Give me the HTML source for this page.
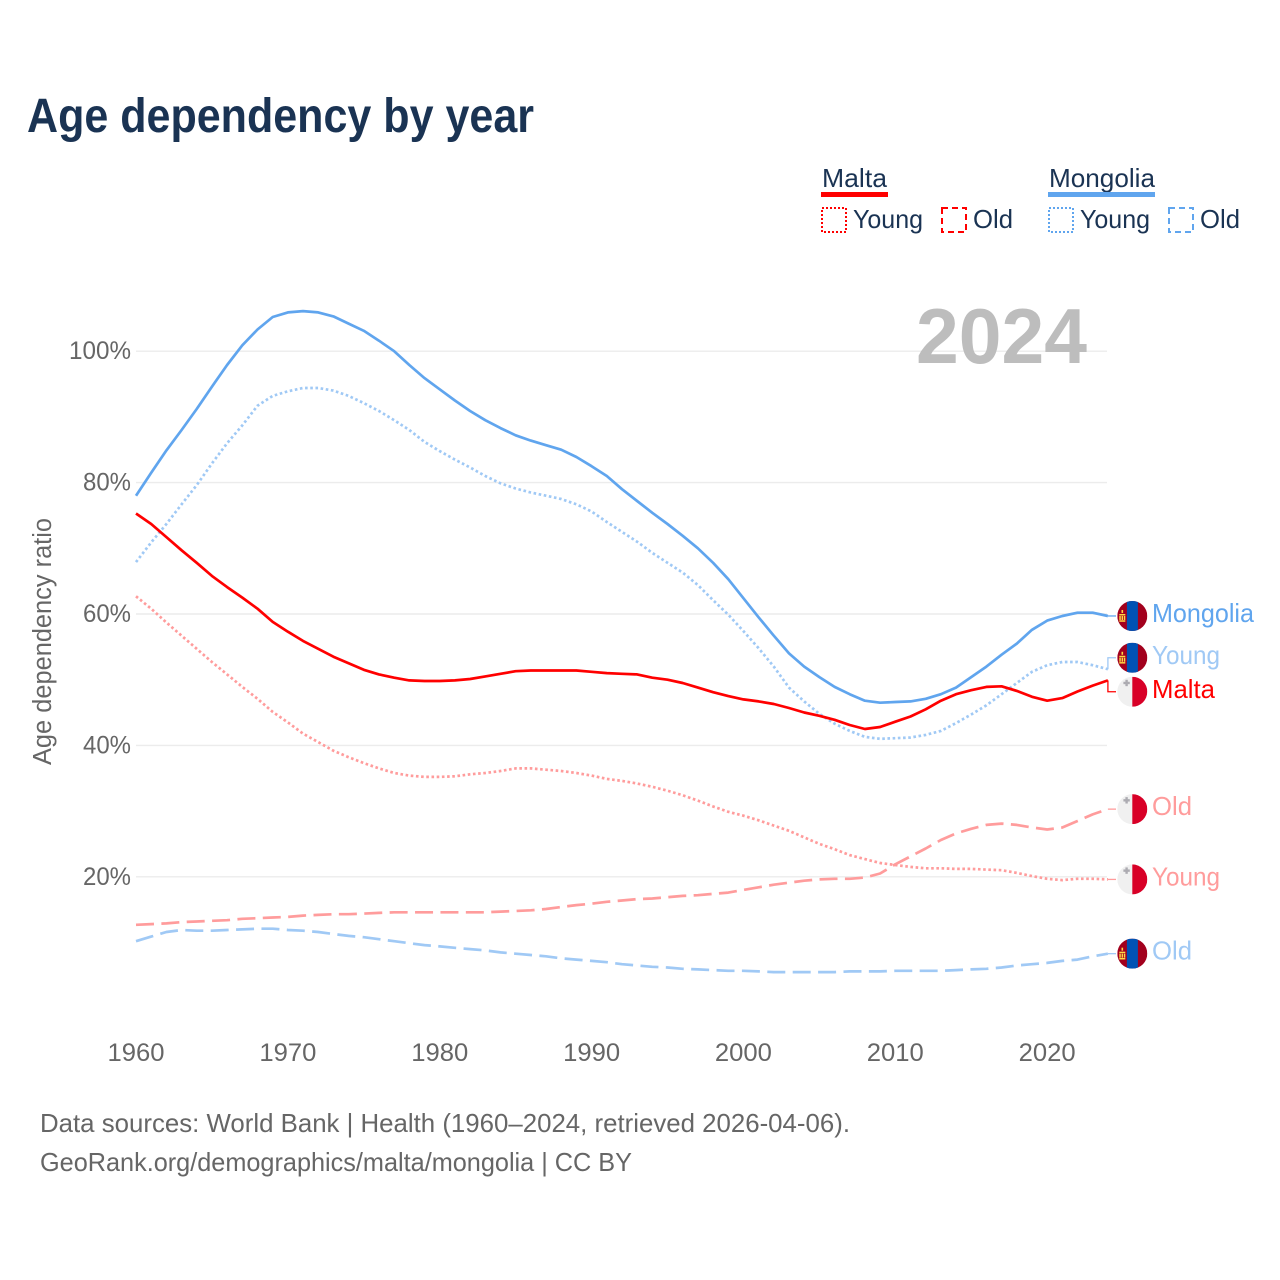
<!DOCTYPE html>
<html lang="en">
<head>
<meta charset="utf-8">
<title>Age dependency by year</title>
<style>
html,body{margin:0;padding:0;background:#fff;}
svg{display:block;font-family:"Liberation Sans",sans-serif;}
</style>
</head>
<body>
<svg id="chart" xmlns="http://www.w3.org/2000/svg" width="1280" height="1280" viewBox="0 0 1280 1280">
  <defs>
    <clipPath id="flag-clip"><circle cx="0" cy="0" r="15"/></clipPath>
    <symbol id="flag-mongolia" overflow="visible">
      <g clip-path="url(#flag-clip)">
        <rect x="-15" y="-15" width="30" height="30" fill="#a2001d"/>
        <rect x="-5.4" y="-15" width="11" height="30" fill="#0052b4"/>
        <rect x="-10.8" y="-6" width="1.6" height="3" fill="#ffda44"/>
        <rect x="-13" y="-2" width="6" height="1.5" fill="#ffda44"/>
        <rect x="-13" y="0" width="1.5" height="4" fill="#ffda44"/>
        <rect x="-8.5" y="0" width="1.5" height="4" fill="#ffda44"/>
        <rect x="-10.7" y="0" width="1.4" height="4" fill="#ffda44"/>
        <rect x="-13" y="4.3" width="6" height="1.5" fill="#ffda44"/>
      </g>
    </symbol>
    <symbol id="flag-malta" overflow="visible">
      <g clip-path="url(#flag-clip)">
        <rect x="-15" y="-15" width="15" height="30" fill="#f0f0f0"/>
        <rect x="0" y="-15" width="15" height="30" fill="#d80027"/>
        <rect x="-6.9" y="-12" width="2.4" height="6.4" fill="#acabb1"/>
        <rect x="-8.9" y="-10" width="6.4" height="2.4" fill="#acabb1"/>
      </g>
    </symbol>
  </defs>

  <text x="27" y="132" font-size="48" font-weight="700" fill="#1a3353" textLength="507" lengthAdjust="spacingAndGlyphs">Age dependency by year</text>

  <g font-size="26" fill="#1a3353">
    <text x="822" y="187" textLength="65" lengthAdjust="spacingAndGlyphs">Malta</text>
    <rect x="821" y="192" width="67" height="5" fill="#ff0000"/>
    <rect x="822" y="208" width="24" height="24" fill="none" stroke="#ff0000" stroke-width="2" stroke-dasharray="2 2"/>
    <text x="853" y="228" textLength="70" lengthAdjust="spacingAndGlyphs">Young</text>
    <rect x="942" y="208" width="24" height="24" fill="none" stroke="#ff0000" stroke-width="2" stroke-dasharray="6 4"/>
    <text x="973" y="228" textLength="40" lengthAdjust="spacingAndGlyphs">Old</text>
    <text x="1049" y="187" textLength="106" lengthAdjust="spacingAndGlyphs">Mongolia</text>
    <rect x="1048" y="192" width="107" height="5" fill="#60a5ee"/>
    <rect x="1049" y="208" width="24" height="24" fill="none" stroke="#60a5ee" stroke-width="2" stroke-dasharray="2 2"/>
    <text x="1080" y="228" textLength="70" lengthAdjust="spacingAndGlyphs">Young</text>
    <rect x="1169" y="208" width="24" height="24" fill="none" stroke="#60a5ee" stroke-width="2" stroke-dasharray="6 4"/>
    <text x="1200" y="228" textLength="40" lengthAdjust="spacingAndGlyphs">Old</text>
  </g>

  <g id="grid"></g>
  <g id="yticks" font-size="25" fill="#666666"></g>
  <g id="xticks" font-size="25" fill="#666666"></g>

  <text x="1087" y="363" text-anchor="end" font-size="78" font-weight="700" fill="#bdbdbd" textLength="171" lengthAdjust="spacingAndGlyphs">2024</text>

  <text transform="translate(51,765) rotate(-90)" font-size="25.5" fill="#666666" textLength="247" lengthAdjust="spacingAndGlyphs">Age dependency ratio</text>

  <g id="series"></g>
  <g id="labels" font-size="26"></g>

  <g font-size="26" fill="#666666">
    <text x="40" y="1132" textLength="810" lengthAdjust="spacingAndGlyphs">Data sources: World Bank | Health (1960–2024, retrieved 2026-04-06).</text>
    <text x="40" y="1171" textLength="592" lengthAdjust="spacingAndGlyphs">GeoRank.org/demographics/malta/mongolia | CC BY</text>
  </g>
</svg>
<script>
var firstYear = 1960;
var yTicks = [20, 40, 60, 80, 100];
var xTicks = [1960, 1970, 1980, 1990, 2000, 2010, 2020];

var maltaTotal = [75.3,73.7,71.7,69.7,67.8,65.8,64.1,62.5,60.8,58.8,
57.3,55.9,54.7,53.5,52.5,51.5,50.8,50.3,49.9,49.8,
49.8,49.9,50.1,50.5,50.9,51.3,51.4,51.4,51.4,51.4,
51.2,51.0,50.9,50.8,50.3,50.0,49.5,48.8,48.1,47.5,
47.0,46.7,46.3,45.7,45.0,44.5,43.9,43.1,42.5,42.8,
43.6,44.4,45.5,46.8,47.8,48.4,48.9,49.0,48.3,47.4,
46.8,47.2,48.2,49.1,49.9];

var maltaYoung = [62.7,60.8,58.7,56.7,54.7,52.7,50.8,48.9,47.1,45.1,
43.5,41.8,40.5,39.2,38.2,37.3,36.5,35.8,35.4,35.2,
35.2,35.3,35.6,35.8,36.1,36.5,36.5,36.3,36.1,35.8,
35.4,34.9,34.6,34.2,33.7,33.1,32.4,31.6,30.7,29.9,
29.3,28.6,27.8,27.0,26.0,25.0,24.2,23.3,22.7,22.1,
21.8,21.5,21.3,21.3,21.2,21.2,21.1,21.0,20.6,20.1,
19.7,19.5,19.7,19.7,19.6];

var maltaOld = [12.7,12.8,12.9,13.1,13.2,13.3,13.4,13.6,13.7,13.8,
13.9,14.1,14.2,14.3,14.3,14.4,14.5,14.6,14.6,14.6,
14.6,14.6,14.6,14.6,14.7,14.8,14.9,15.1,15.4,15.7,
15.9,16.2,16.4,16.6,16.7,16.9,17.1,17.2,17.4,17.6,
18.0,18.4,18.8,19.1,19.4,19.6,19.7,19.7,19.9,20.5,
21.9,23.1,24.3,25.6,26.6,27.3,27.9,28.1,27.9,27.5,
27.2,27.5,28.5,29.5,30.3];

var mongoliaTotal = [78.0,81.5,84.9,88.0,91.2,94.6,97.9,100.9,103.3,105.2,
105.9,106.1,105.9,105.3,104.2,103.1,101.6,100.0,97.9,95.9,
94.2,92.5,90.9,89.5,88.3,87.2,86.4,85.7,85.0,83.9,
82.5,81.0,79.0,77.2,75.4,73.7,71.9,70.0,67.8,65.3,
62.4,59.5,56.7,54.0,52.0,50.4,48.9,47.8,46.8,46.5,
46.6,46.7,47.1,47.8,48.8,50.4,52.0,53.8,55.5,57.6,
59.0,59.7,60.2,60.2,59.7];

var mongoliaYoung = [67.9,70.9,73.7,76.7,79.6,82.9,86.0,88.7,91.7,93.2,
93.9,94.4,94.4,94.0,93.2,92.1,90.9,89.5,88.0,86.2,
84.8,83.5,82.3,81.0,79.9,79.1,78.5,78.0,77.5,76.7,
75.6,74.0,72.5,71.0,69.3,67.8,66.3,64.4,62.1,59.9,
57.4,54.8,52.0,48.8,46.7,44.8,43.3,42.2,41.3,41.0,
41.1,41.2,41.6,42.2,43.4,44.7,46.1,47.8,49.5,51.2,
52.2,52.7,52.7,52.2,51.6];

var mongoliaOld = [10.2,10.9,11.6,11.9,11.8,11.8,11.9,12.0,12.1,12.1,
11.9,11.8,11.6,11.3,11.0,10.8,10.5,10.2,9.9,9.6,
9.4,9.2,9.0,8.8,8.5,8.3,8.1,7.9,7.6,7.4,
7.2,7.0,6.7,6.5,6.3,6.2,6.0,5.9,5.8,5.7,
5.7,5.6,5.5,5.5,5.5,5.5,5.5,5.6,5.6,5.6,
5.7,5.7,5.7,5.7,5.8,5.9,6.0,6.2,6.5,6.7,
6.9,7.2,7.4,7.9,8.3];

var NS = 'http://www.w3.org/2000/svg';
var RED = '#ff0000';
var RED_SOFT = '#ff9c9c';
var BLUE = '#60a5ee';
var BLUE_SOFT = '#a0c9f5';
var DOTTED = '2.6 2.6';
var DASHED = '18 7.4';

function xScale(year) { return 136 + (year - 1960) * 15.186; }
function yScale(value) { return 876.8 - (value - 20) * 6.57; }

function make(tag, attrs, parent) {
  var el = document.createElementNS(NS, tag);
  for (var k in attrs) { el.setAttribute(k, attrs[k]); }
  parent.appendChild(el);
  return el;
}

var gridGroup = document.getElementById('grid');
var yTickGroup = document.getElementById('yticks');
var xTickGroup = document.getElementById('xticks');
var seriesGroup = document.getElementById('series');
var labelGroup = document.getElementById('labels');

yTicks.forEach(function (t) {
  var line = make('line', {x1: 136, x2: 1107, y1: yScale(t), y2: yScale(t), stroke: '#ececec', 'stroke-width': 1.4}, gridGroup);
  
  
  var label = make('text', {x: 131, y: yScale(t) + 8, 'text-anchor': 'end', textLength: t === 100 ? 62 : 48, lengthAdjust: 'spacingAndGlyphs'}, yTickGroup);
  label.textContent = t + '%';
  
  
});

xTicks.forEach(function (t) {
  var label = make('text', {x: xScale(t), y: 1061, 'text-anchor': 'middle', textLength: 57, lengthAdjust: 'spacingAndGlyphs'}, xTickGroup);
  label.textContent = t;
  
  
});

var seriesList = [
  {key: 'mongolia-old', values: mongoliaOld, color: BLUE_SOFT, dash: DASHED, text: 'Old', flag: 'flag-mongolia', w: 40},
  {key: 'malta-old', values: maltaOld, color: RED_SOFT, dash: DASHED, text: 'Old', flag: 'flag-malta', w: 40},
  {key: 'malta-young', values: maltaYoung, color: RED_SOFT, dash: DOTTED, text: 'Young', flag: 'flag-malta', w: 68},
  {key: 'mongolia-young', values: mongoliaYoung, color: BLUE_SOFT, dash: DOTTED, text: 'Young', flag: 'flag-mongolia', w: 68},
  {key: 'mongolia-total', values: mongoliaTotal, color: BLUE, dash: null, text: 'Mongolia', flag: 'flag-mongolia', w: 102},
  {key: 'malta-total', values: maltaTotal, color: RED, dash: null, text: 'Malta', flag: 'flag-malta', w: 63}
];

seriesList.forEach(function (s) {
  var pts = s.values.map(function (v, i) {
    return xScale(firstYear + i).toFixed(1) + ',' + yScale(v).toFixed(1);
  }).join(' ');
  var line = make('polyline', {points: pts, fill: 'none', stroke: s.color, 'stroke-width': 2.7, 'stroke-linejoin': 'round'}, seriesGroup);
  if (s.dash) { line.setAttribute('stroke-dasharray', s.dash); }
  
  
  s.endY = yScale(s.values[s.values.length - 1]);
  s.labelY = s.endY;
});

/* push overlapping end labels apart, as the flags must not collide */
var ordered = seriesList.slice().sort(function (a, b) { return a.endY - b.endY; });
for (var pass = 0; pass < 5; pass++) {
  for (var n = 0; n < ordered.length - 1; n++) {
    var gap = ordered[n + 1].labelY - ordered[n].labelY;
    if (gap < 34) {
      ordered[n].labelY -= (34 - gap) / 2;
      ordered[n + 1].labelY += (34 - gap) / 2;
    }
  }
}

seriesList.forEach(function (s) {
  var endX = xScale(firstYear + s.values.length - 1);
  var link = make('polyline', {points: endX + ',' + s.endY + ' ' + endX + ',' + s.labelY + ' 1116,' + s.labelY, fill: 'none', stroke: s.color, 'stroke-width': 1.3}, labelGroup);
  
  

  var flag = make('use', {href: '#' + s.flag, x: 1132.3, y: s.labelY}, labelGroup);
  
  

  var label = make('text', {x: 1152, y: s.labelY + 6, fill: s.color, textLength: s.w, lengthAdjust: 'spacingAndGlyphs'}, labelGroup);
  label.textContent = s.text;
  
  
});
</script>
</body>
</html>
